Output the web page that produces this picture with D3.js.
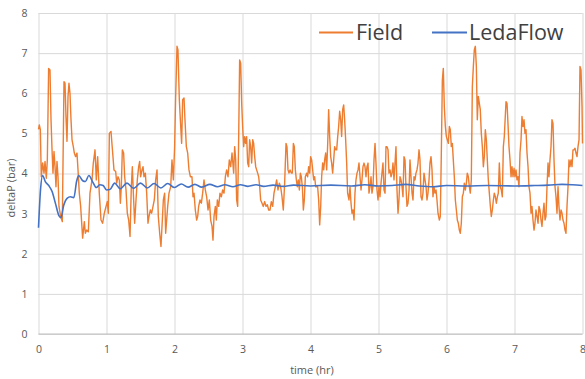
<!DOCTYPE html>
<html><head><meta charset="utf-8">
<script src="https://cdn.jsdelivr.net/npm/d3@7"></script>
<style>body{margin:0;background:#fff}svg{display:block}</style>
</head><body><svg id="c" width="585" height="379"></svg>
<script>
const xTicks = [0, 1, 2, 3, 4, 5, 6, 7, 8];
const yTicks = [0, 1, 2, 3, 4, 5, 6, 7, 8];
const seriesNames = ["Field", "LedaFlow"];
const xTitle = "time (hr)";
const yTitle = "deltaP (bar)";

// [time (hr), deltaP (bar)]
const fieldSeries = [
[0,5.10],[0.012,5.21],[0.027,5.09],[0.041,3.92],[0.061,4.26],[0.081,4.01],[0.096,4.30],[0.115,3.88],[0.130,4.34],[0.149,6.62],
[0.169,6.58],[0.184,5.34],[0.199,4.59],[0.213,4.01],[0.228,4.55],[0.243,4.17],[0.257,3.67],[0.272,4.30],[0.287,3.92],[0.301,3.18],
[0.326,2.93],[0.350,2.80],[0.375,6.29],[0.390,6.25],[0.404,5.42],[0.419,4.80],[0.434,5.92],[0.448,6.25],[0.463,6.00],[0.478,5.34],
[0.493,4.84],[0.512,4.67],[0.527,4.51],[0.546,4.42],[0.566,4.51],[0.581,4.09],[0.600,3.51],[0.620,3.18],[0.649,2.39],[0.674,2.80],
[0.689,2.51],[0.708,2.59],[0.733,2.55],[0.757,3.51],[0.787,3.84],[0.806,4.26],[0.831,4.59],[0.850,3.84],[0.870,4.42],[0.894,3.51],
[0.919,2.84],[0.943,2.76],[0.968,3.01],[0.993,3.18],[1.012,3.30],[1.027,3.01],[1.042,5.00],[1.066,5.05],[1.091,4.51],
[1.110,4.09],[1.135,4.05],[1.150,3.76],[1.169,3.92],[1.189,3.84],[1.204,3.26],[1.218,3.67],[1.233,4.59],[1.252,4.51],[1.267,3.92],
[1.287,3.59],[1.306,3.01],[1.326,2.84],[1.346,2.43],[1.365,3.67],[1.380,4.17],[1.395,3.51],[1.414,2.76],[1.434,3.34],[1.453,3.84],
[1.473,4.17],[1.488,4.30],[1.502,3.92],[1.522,4.09],[1.537,4.17],[1.551,3.92],[1.571,4.01],[1.591,3.51],[1.610,2.76],[1.625,2.93],
[1.645,3.09],[1.664,3.01],[1.684,3.18],[1.703,3.34],[1.723,3.84],[1.743,4.09],[1.762,2.93],[1.782,2.51],[1.801,2.18],[1.821,2.84],
[1.836,3.34],[1.855,3.51],[1.870,2.51],[1.885,2.84],[1.900,3.18],[1.919,3.51],[1.944,3.67],[1.963,4.34],[1.983,3.84],[2.002,4.67],
[2.017,5.92],[2.037,7.17],[2.051,7.08],[2.071,5.84],[2.086,5.34],[2.105,4.75],[2.120,5.84],[2.140,5.88],[2.154,5.34],[2.174,4.67],
[2.194,4.51],[2.213,4.09],[2.233,3.92],
[2.257,3.92],[2.272,3.42],[2.287,3.51],[2.306,3.09],[2.326,2.84],[2.341,2.93],[2.355,3.18],[2.375,3.34],[2.395,3.26],[2.414,3.51],
[2.434,3.84],[2.453,3.59],[2.473,3.42],[2.493,3.09],[2.512,3.34],[2.532,2.84],[2.552,2.68],[2.566,2.34],[2.581,2.93],[2.601,3.18],
[2.615,2.84],[2.630,3.34],[2.650,3.18],[2.669,3.51],[2.689,3.42],[2.708,3.59],[2.728,3.51],[2.748,3.92],[2.767,4.09],[2.787,3.92],
[2.806,4.34],[2.826,4.17],[2.846,4.51],[2.870,4.01],[2.885,4.67],[2.900,4.34],[2.914,3.34],[2.929,3.18],[2.944,4.92],[2.958,6.83],
[2.973,6.75],[2.988,5.75],[3.002,5.17],[3.017,4.67],[3.032,4.92],[3.047,4.75],[3.061,4.92],[3.076,4.26],[3.091,4.17],[3.105,4.84],
[3.120,4.67],[3.135,4.26],[3.150,4.84],[3.164,4.75],[3.179,4.42],[3.194,4.17],[3.208,4.09],[3.223,4.01],[3.238,3.92],[3.253,3.67],
[3.267,3.34],[3.287,3.26],[3.306,3.18],[3.326,3.30],[3.346,3.18],[3.365,3.22],[3.385,3.09],
[3.404,3.09],[3.424,3.30],[3.444,3.18],[3.463,3.51],[3.483,3.67],[3.502,3.84],[3.522,3.59],[3.542,3.76],[3.561,3.67],[3.581,3.42],
[3.600,3.09],[3.620,3.76],[3.640,4.75],[3.654,4.67],[3.669,4.09],[3.684,4.01],[3.699,4.09],[3.718,4.01],[3.733,4.01],[3.748,4.75],
[3.762,4.67],[3.777,4.09],[3.792,3.84],[3.806,3.67],[3.821,3.84],[3.836,3.59],[3.851,4.01],[3.865,3.92],[3.880,3.67],[3.895,3.09],
[3.909,3.34],[3.924,3.92],[3.944,4.01],[3.958,3.92],[3.973,4.17],[3.988,4.01],[4.002,4.42],[4.017,4.34],[4.032,4.09],[4.047,3.84],
[4.061,3.92],[4.076,3.67],[4.091,3.67],[4.105,3.67],[4.120,3.34],[4.135,2.72],[4.150,3.18],[4.164,3.92],[4.179,4.26],[4.194,4.09],
[4.208,4.34],[4.223,4.51],[4.238,4.09],[4.253,4.75],[4.267,5.59],[4.282,4.92],[4.297,4.42],[4.311,4.26],[4.326,4.01],[4.341,4.34],
[4.355,4.67],[4.370,4.59],[4.385,4.59],[4.400,4.92],[4.414,5.17],[4.429,5.55],[4.444,5.34],[4.458,4.92],[4.473,5.59],[4.488,5.71],
[4.502,5.34],[4.517,4.84],[4.532,4.26],[4.546,3.51],
[4.566,3.34],[4.581,3.67],[4.596,3.26],[4.610,3.01],[4.625,3.09],[4.640,2.84],[4.654,3.51],[4.669,3.84],[4.684,4.01],[4.699,4.09],
[4.713,4.26],[4.728,3.92],[4.743,3.59],[4.757,3.84],[4.772,4.17],[4.787,4.26],[4.801,4.17],[4.816,3.92],[4.831,4.17],[4.846,4.26],
[4.860,3.51],[4.875,3.67],[4.890,3.92],[4.904,3.51],[4.919,3.67],[4.934,4.34],[4.949,4.75],[4.963,4.26],[4.978,3.59],[4.993,3.34],
[5.007,3.67],[5.022,3.42],[5.037,3.76],[5.051,4.01],[5.066,4.26],[5.081,3.59],[5.096,3.51],[5.110,4.67],[5.125,4.67],[5.140,4.59],
[5.154,4.01],[5.169,4.09],[5.184,3.92],[5.199,4.01],[5.213,4.26],[5.228,3.84],[5.243,4.26],[5.257,4.67],[5.272,3.59],[5.287,3.01],
[5.301,3.34],[5.316,3.92],[5.331,3.84],[5.346,3.67],[5.360,3.42],[5.375,4.42],[5.390,4.34],[5.404,3.67],[5.419,3.18],[5.434,3.26],
[5.449,3.59],[5.463,4.34],[5.478,3.92],[5.493,3.51],[5.507,3.34],[5.522,3.92],[5.537,3.84],[5.551,4.01],[5.566,4.09],[5.581,4.26],
[5.596,4.59],[5.610,4.34],[5.625,3.42],[5.640,3.34],[5.654,3.51],[5.669,4.01],[5.684,3.84],
[5.699,3.67],[5.713,3.34],[5.728,3.51],[5.743,3.84],[5.757,4.26],[5.772,4.42],[5.787,4.09],[5.801,3.42],[5.816,3.67],[5.831,3.51],
[5.846,3.59],[5.860,3.34],[5.875,3.01],[5.895,2.84],[5.909,2.93],[5.924,4.51],[5.939,6.33],[5.953,6.62],[5.968,5.67],[5.983,5.17],
[5.998,4.92],[6.012,4.84],[6.027,4.75],[6.042,5.17],[6.056,5.09],[6.071,4.67],[6.086,4.75],[6.100,4.34],[6.115,3.92],[6.130,3.34],
[6.145,3.09],[6.159,2.84],[6.174,2.76],[6.189,2.59],[6.203,2.51],[6.218,2.76],[6.233,3.42],[6.248,3.51],[6.262,3.76],[6.277,3.59],
[6.292,3.76],[6.306,4.01],[6.321,3.92],[6.336,3.67],[6.350,3.51],[6.365,3.84],[6.380,6.17],[6.395,6.67],[6.409,7.08],[6.424,7.17],
[6.439,6.67],[6.453,5.34],[6.468,5.92],[6.483,5.75],[6.497,5.59],[6.512,5.00],[6.527,4.67],[6.542,4.17],[6.556,4.42],[6.571,5.09],
[6.586,4.84],[6.600,4.34],[6.615,3.84],[6.630,3.51],[6.645,3.18],[6.659,2.93],[6.674,3.09],[6.689,3.34],[6.703,3.51],[6.718,3.42],
[6.733,3.26],[6.748,3.42],[6.762,3.51],[6.777,4.26],[6.792,3.67],[6.806,3.59],[6.821,3.42],[6.836,4.67],
[6.850,4.92],[6.875,5.79],[6.890,5.75],[6.904,5.25],[6.919,4.67],[6.934,4.34],[6.949,3.92],[6.963,4.17],[6.978,3.92],[6.993,4.13],
[7.007,3.92],[7.022,4.09],[7.037,3.84],[7.051,3.92],[7.066,3.67],[7.081,4.51],[7.096,4.84],[7.110,5.42],[7.125,5.17],[7.140,5.34],
[7.154,5.00],[7.169,5.09],[7.184,4.51],[7.199,4.17],[7.213,3.67],[7.228,3.51],[7.243,3.01],[7.257,3.18],[7.272,2.84],[7.287,2.59],
[7.301,2.76],[7.316,3.09],[7.331,2.93],[7.346,2.76],[7.360,3.18],[7.375,3.09],[7.390,2.84],[7.404,2.68],[7.419,3.01],[7.434,3.26],
[7.449,2.84],[7.463,2.93],[7.478,3.67],[7.493,4.26],[7.507,3.92],[7.522,4.34],[7.537,4.67],[7.551,5.34],[7.566,5.25],[7.581,4.34],
[7.596,3.67],[7.610,3.42],[7.625,3.01],[7.640,3.67],[7.654,3.18],[7.669,2.84],[7.684,3.09],[7.699,3.01],[7.713,2.84],[7.728,2.76],
[7.743,2.59],[7.757,2.51],[7.772,3.18],[7.787,3.67],[7.801,4.34],[7.816,4.17],[7.831,4.34],[7.846,4.17],[7.860,4.59],[7.875,4.59],
[7.890,4.63],[7.904,4.51],[7.919,4.42],[7.934,4.67],[7.949,4.84],[7.963,6.67],[7.978,6.58],[7.993,5.67],[8.0,4.75]
];

const ledaFlowSeries = [
[0,2.65],[0.03,3.6],[0.06,3.95],[0.1,3.8],[0.15,3.7],[0.2,3.55],[0.25,3.25],[0.3,2.95],[0.33,2.9],[0.37,3.2],
[0.42,3.38],[0.47,3.42],[0.52,3.4],[0.56,3.8],[0.59,3.95],[0.65,3.82],[0.69,3.8],[0.74,3.95],[0.8,3.78],[0.85,3.65],
[0.9,3.72],[0.95,3.7],[1.0,3.59],[1.05,3.6],[1.12,3.76],[1.2,3.62],[1.3,3.76],[1.4,3.63],[1.5,3.76],[1.6,3.64],
[1.7,3.75],[1.8,3.64],[1.9,3.75],[2.0,3.65],[2.1,3.74],[2.2,3.66],[2.3,3.73],[2.4,3.66],[2.52,3.73],[2.63,3.67],
[2.74,3.72],[2.86,3.67],[2.97,3.72],[3.08,3.68],[3.2,3.72],[3.31,3.68],[3.45,3.71],[3.6,3.68],[3.75,3.71],[4.0,3.69],
[4.3,3.71],[4.6,3.69],[4.8,3.72],[5.0,3.69],[5.2,3.7],[5.4,3.73],[5.6,3.69],[5.8,3.67],[6.0,3.7],[6.3,3.69],
[6.6,3.7],[7.0,3.69],[7.3,3.7],[7.5,3.71],[7.7,3.73],[7.85,3.72],[8.0,3.7]
];

const colors = {"Field": "#ED7D31", "LedaFlow": "#4472C4"};
const font = "'Open Sans', 'Liberation Sans', sans-serif";

const svg = d3.select("#c");
const x = d3.scaleLinear().domain([0, 8]).range([38.5, 582.5]);
const y = d3.scaleLinear().domain([0, 8]).range([334, 13]);

// horizontal gridlines + y labels
const yAxis = svg.append("g").attr("transform", `translate(${x(0)},0)`)
  .call(d3.axisLeft(y).tickValues(yTicks).tickFormat(d3.format("d"))
        .tickSize(-(x(8) - x(0))).tickPadding(11));
yAxis.select(".domain").remove();
yAxis.selectAll("line").attr("stroke", "#d9d9d9").attr("stroke-width", 1);
yAxis.selectAll("text").attr("fill", "#595959").style("font-family", font).style("font-size", "10.5px");

// vertical gridlines + x labels
const xAxis = svg.append("g").attr("transform", `translate(0,${y(0)})`)
  .call(d3.axisBottom(x).tickValues(xTicks).tickFormat(d3.format("d"))
        .tickSize(-(y(0) - y(8))).tickPadding(12));
xAxis.select(".domain").remove();
xAxis.selectAll("line").attr("stroke", "#d9d9d9").attr("stroke-width", 1);
xAxis.selectAll("text").attr("fill", "#595959").style("font-family", font).style("font-size", "10.5px");

// baseline
svg.append("line").attr("x1", x(0)).attr("x2", x(8)).attr("y1", y(0)).attr("y2", y(0))
  .attr("stroke", "#bfbfbf").attr("stroke-width", 1);

// series
const line = d3.line().x(d => x(d[0])).y(d => y(d[1]));
svg.append("path").datum(fieldSeries).attr("d", line.curve(d3.curveLinear))
  .attr("fill", "none").attr("stroke", colors.Field).attr("stroke-width", 1.4).attr("stroke-linejoin", "round");
svg.append("path").datum(ledaFlowSeries).attr("d", d3.line().x(d => x(d[0])).y(d => y(d[1])).curve(d3.curveMonotoneX))
  .attr("fill", "none").attr("stroke", colors.LedaFlow).attr("stroke-width", 1.6).attr("stroke-linejoin", "round");

// axis titles
svg.append("text").attr("x", 312).attr("y", 374).attr("text-anchor", "middle")
  .attr("fill", "#595959").style("font-family", font).style("font-size", "11px").text(xTitle);
svg.append("text").attr("transform", "translate(15,188) rotate(-90)").attr("text-anchor", "middle")
  .attr("fill", "#595959").style("font-family", font).style("font-size", "11px").text(yTitle);

// legend
const legendPos = [{name: seriesNames[0], x0: 319, x1: 353, tx: 356}, {name: seriesNames[1], x0: 432, x1: 467, tx: 469}];
const lg = svg.append("g");
legendPos.forEach(p => {
  lg.append("line").attr("x1", p.x0).attr("x2", p.x1).attr("y1", 32.5).attr("y2", 32.5)
    .attr("stroke", colors[p.name]).attr("stroke-width", 2.2);
  lg.append("text").attr("x", p.tx).attr("y", 39.5).attr("fill", "#404040")
    .style("font-family", font).style("font-size", "21.5px").text(p.name);
});
</script>
</body></html>
